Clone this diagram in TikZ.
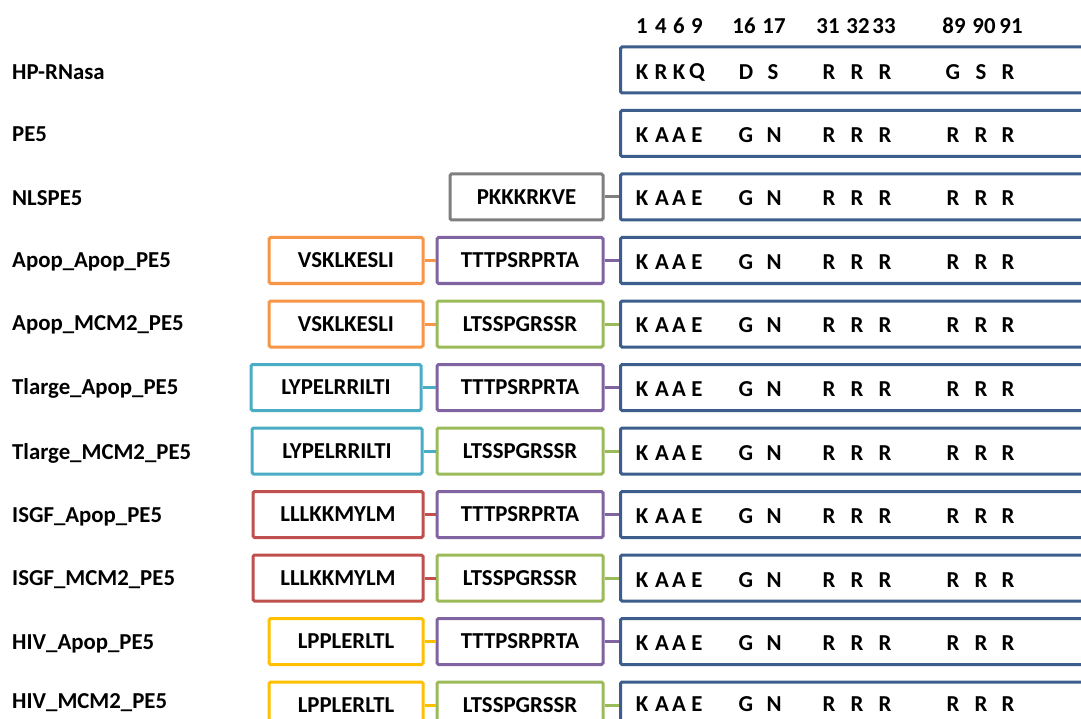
\documentclass[tikz,border=0pt]{standalone}
\usepackage{fontspec}
\setmainfont{Carlito}
\definecolor{cblue}{HTML}{3B5E8C}
\definecolor{cgray}{HTML}{7F7F7F}
\definecolor{corange}{HTML}{F79646}
\definecolor{cpurple}{HTML}{8064A2}
\definecolor{cgreen}{HTML}{9BBB59}
\definecolor{ccyan}{HTML}{4BACC6}
\definecolor{cred}{HTML}{C0504D}
\definecolor{cyellow}{HTML}{FFC000}
\newcommand\myresrow[3]{\foreach \xx/\ll [count=\kk] in {#3} \node[res] (res#1-\kk) at (\xx,#2) {\ll};}
\begin{document}
\begin{tikzpicture}[x=1pt,y=-1pt,
  font=\fontsize{22.8}{26}\selectfont\bfseries,
  box/.style={draw, line width=3pt, rounded corners=1.5pt, minimum height=46pt, inner sep=0pt, fill=white},
  pe/.style={box, draw=cblue, minimum width=480pt, anchor=west},
  conn/.style={line width=3pt},
  lab/.style={anchor=west, inner sep=0pt},
  res/.style={inner sep=0pt, text=black}]
\useasboundingbox (0,0) rectangle (1081,719);
\clip (0,0) rectangle (1081,719);
\fill[white] (0,0) rectangle (1081,719);

% header numbers
\myresrow{0}{26}{642/1,661/4,679/6,697/9,744/16,774/17,828/31,858/32,884/33,954/89,984/90,1011/91}

% labels
\node[lab] (l1) at (12,72) {HP-RNasa};
\node[lab] (l2) at (12,134.5) {PE5};
\node[lab] (l3) at (12,198) {NLSPE5};
\node[lab] (l4) at (12,261.5) {Apop\_Apop\_PE5};
\node[lab] (l5) at (12,325) {Apop\_MCM2\_PE5};
\node[lab] (l6) at (12,388.5) {Tlarge\_Apop\_PE5};
\node[lab] (l7) at (12,453) {Tlarge\_MCM2\_PE5};
\node[lab] (l8) at (12,516.5) {ISGF\_Apop\_PE5};
\node[lab] (l9) at (12,580) {ISGF\_MCM2\_PE5};
\node[lab] (l10) at (12,643.5) {HIV\_Apop\_PE5};
\node[lab] (l11) at (12,703) {HIV\_MCM2\_PE5};

% PE boxes
\node[pe] (b1) at (619,70) {};
\node[pe] (b2) at (619,133.5) {};
\node[pe] (b3) at (619,197) {};
\node[pe] (b4) at (619,260.5) {};
\node[pe] (b5) at (619,324) {};
\node[pe] (b6) at (619,387.5) {};
\node[pe] (b7) at (619,451) {};
\node[pe] (b8) at (619,514.5) {};
\node[pe] (b9) at (619,578) {};
\node[pe] (b10) at (619,641.5) {};
\node[pe] (b11) at (619,705) {};

% residues
\myresrow{1}{72}{642/K,661/R,679/K,697/Q,746/D,773/S,829/R,857/R,885/R,953/G,981/S,1008/R}
\foreach \r/\y in {2/135,3/198.5,4/262,5/325.5,6/389,7/453,8/516.5,9/580,10/643.5,11/704}{
  \myresrow{\r}{\y}{642/K,662/A,679/A,697/E,746/G,774/N,829/R,857/R,885/R,953/R,981/R,1008/R}
}

% NLS row
\node[box, draw=cgray, minimum width=153pt] (g3) at (526.5,197) {PKKKRKVE};
\draw[conn, cgray] (g3.east) -- (b3.west);

% second-level boxes (purple / green)
\node[box, draw=cpurple, minimum width=166pt] (p4) at (520,260.5) {TTTPSRPRTA};
\node[box, draw=cgreen, minimum width=166pt] (p5) at (520,324) {LTSSPGRSSR};
\node[box, draw=cpurple, minimum width=166pt] (p6) at (520,387.5) {TTTPSRPRTA};
\node[box, draw=cgreen, minimum width=166pt] (p7) at (520,451) {LTSSPGRSSR};
\node[box, draw=cpurple, minimum width=166pt] (p8) at (520,514.5) {TTTPSRPRTA};
\node[box, draw=cgreen, minimum width=166pt] (p9) at (520,578) {LTSSPGRSSR};
\node[box, draw=cpurple, minimum width=166pt] (p10) at (520,641.5) {TTTPSRPRTA};
\node[box, draw=cgreen, minimum width=166pt] (p11) at (520,705) {LTSSPGRSSR};
\foreach \r/\c in {4/cpurple,5/cgreen,6/cpurple,7/cgreen,8/cpurple,9/cgreen,10/cpurple,11/cgreen}{
  \draw[conn, \c] (p\r.east) -- (b\r.west);
}

% first-level boxes
\node[box, draw=corange, minimum width=154pt] (f4) at (346,260.5) {VSKLKESLI};
\node[box, draw=corange, minimum width=154pt] (f5) at (346,324) {VSKLKESLI};
\node[box, draw=ccyan, minimum width=170pt] (f6) at (336,387.5) {LYPELRRILTI};
\node[box, draw=ccyan, minimum width=170pt] (f7) at (337,451) {LYPELRRILTI};
\node[box, draw=cred, minimum width=170pt] (f8) at (338,514.5) {LLLKKMYLM};
\node[box, draw=cred, minimum width=170pt] (f9) at (338,578) {LLLKKMYLM};
\node[box, draw=cyellow, minimum width=154pt] (f10) at (346,641.5) {LPPLERLTL};
\node[box, draw=cyellow, minimum width=154pt] (f11) at (346,705) {LPPLERLTL};
\foreach \r/\c in {4/corange,5/corange,6/ccyan,7/ccyan,8/cred,9/cred,10/cyellow,11/cyellow}{
  \draw[conn, \c] (f\r.east) -- (p\r.west);
}
\end{tikzpicture}
\end{document}
